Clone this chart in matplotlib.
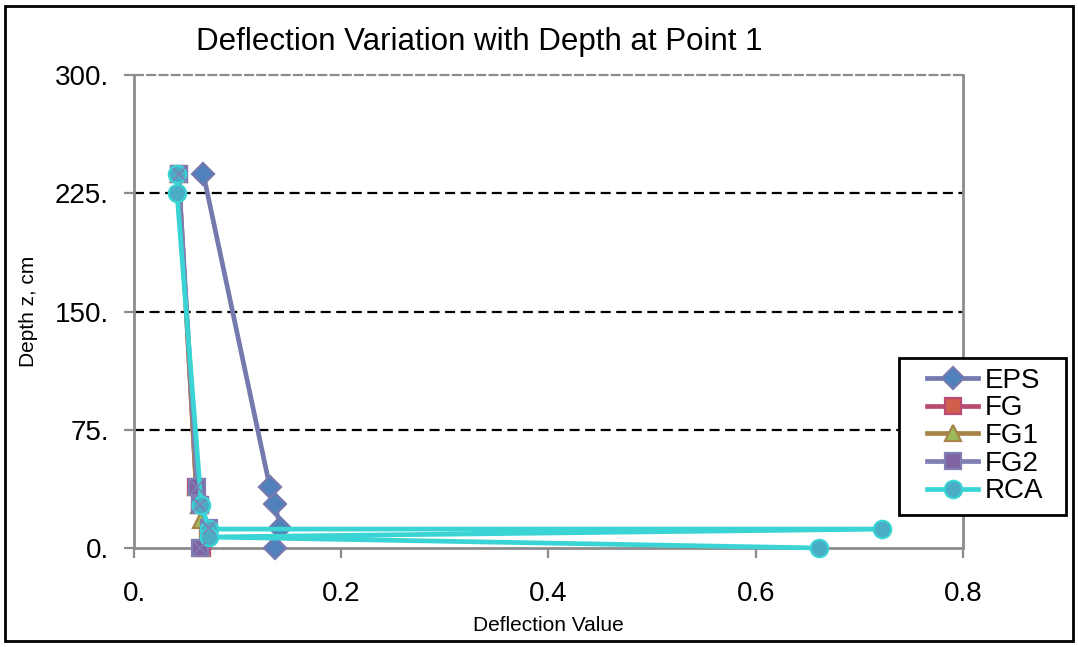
import matplotlib
matplotlib.use("Agg")
import matplotlib.pyplot as plt
from matplotlib.patches import Rectangle

plt.rcParams['font.family'] = ['Liberation Sans', 'DejaVu Sans']

# Deflection values (x) against depth z in cm (y) for each fill material
eps_x = [0.067, 0.131, 0.136, 0.141, 0.136]
eps_z = [237, 39, 28, 13, 0]

fg_x = [0.043, 0.060, 0.064, 0.071, 0.066]
fg_z = [237, 39, 27, 12, 0]

fg1_x = [0.043, 0.060, 0.063, 0.065, 0.065]
fg1_z = [237, 39, 27, 18, 0]

fg2_x = [0.043, 0.061, 0.064, 0.072, 0.064]
fg2_z = [237, 39, 27, 13, 0]

rca_x = [0.0415, 0.0415, 0.0650, 0.0725, 0.722, 0.0725, 0.661]
rca_z = [237, 225, 27, 12, 12, 7, 0]

x_ticks = [0.0, 0.2, 0.4, 0.6, 0.8]
x_tick_labels = ["0.", "0.2", "0.4", "0.6", "0.8"]
z_ticks = [0, 75, 150, 225, 300]
z_tick_labels = ["0.", "75.", "150.", "225.", "300."]

fig = plt.figure(figsize=(10.78, 6.47), dpi=100)
ax = fig.add_axes([0.1243, 0.153, 0.7690, 0.731])

# outer chart frame
fig.patches.append(Rectangle((0.005, 0.009), 0.990, 0.981, transform=fig.transFigure,
                             fill=False, edgecolor='black', linewidth=2.0, zorder=0))

# horizontal gridlines
for z in z_ticks[1:-1]:
    ax.axhline(z, color='black', linewidth=1.6, linestyle=(0, (4.5, 2.5)), zorder=1)
ax.axhline(300, color='#8c8c8c', linewidth=1.6, linestyle=(0, (4.5, 1.0)), zorder=1, clip_on=False)

series = [
    ("EPS", eps_x, eps_z, '#7479AE', 'D', '#4F81BD', '#7479AE', 11.5),
    ("FG", fg_x, fg_z, '#B94A74', 's', '#D0604C', '#B94A74', 12),
    ("FG1", fg1_x, fg1_z, '#A6844A', '^', '#9BBB59', '#A6844A', 12),
    ("FG2", fg2_x, fg2_z, '#7F7FB4', 's', '#8064A2', '#7F7FB4', 12),
    ("RCA", rca_x, rca_z, '#3AD4D4', 'o', '#4BACC6', '#3AD4D4', 12.5),
]

for name, xs, zs, lc, mk, mfc, mec, ms in series:
    ax.plot(xs, zs, color=lc, linewidth=3.4, marker=mk, markersize=ms,
            markerfacecolor=mfc, markeredgecolor=mec, markeredgewidth=1.6,
            label=name, zorder=3, clip_on=False)

# X overlay on FG2 square markers
ax.plot(fg2_x, fg2_z, linestyle='none', marker='x', markersize=9,
        markeredgecolor='#7F7FB4', markeredgewidth=1.2, zorder=3, clip_on=False)

ax.set_xlim(0, 0.8)
ax.set_ylim(0, 300)
ax.set_xticks(x_ticks)
ax.set_xticklabels(x_tick_labels)
ax.set_yticks(z_ticks)
ax.set_yticklabels(z_tick_labels)

for side in ['left', 'right', 'bottom']:
    ax.spines[side].set_color('#8c8c8c')
    ax.spines[side].set_linewidth(2.0)
ax.spines['top'].set_visible(False)

ax.tick_params(axis='both', direction='out', color='#8c8c8c', width=1.6, length=7,
               labelsize=20)
ax.tick_params(axis='x', pad=17)
ax.tick_params(axis='y', pad=11)

ax.set_title("Deflection Variation with Depth at Point 1", fontsize=22.5, pad=18, x=0.416)
ax.set_xlabel("Deflection Value", fontsize=15, labelpad=6)
ax.set_ylabel("Depth z, cm", fontsize=15, labelpad=12)

# legend box with white background, entries placed inside it
ax.add_patch(Rectangle((0.9228, 0.0698), 0.2014, 0.3319, transform=ax.transAxes,
                       facecolor='white', edgecolor='black', linewidth=2.0,
                       clip_on=False, zorder=4))
leg = ax.legend(loc='center left', bbox_to_anchor=(0.9566, 0.2368), fontsize=20,
                frameon=False, handlelength=1.84, borderpad=0, labelspacing=0.06,
                handletextpad=0.25, borderaxespad=0)
leg.set_zorder(5)

fig.savefig("out.png", dpi=100, facecolor='white')
